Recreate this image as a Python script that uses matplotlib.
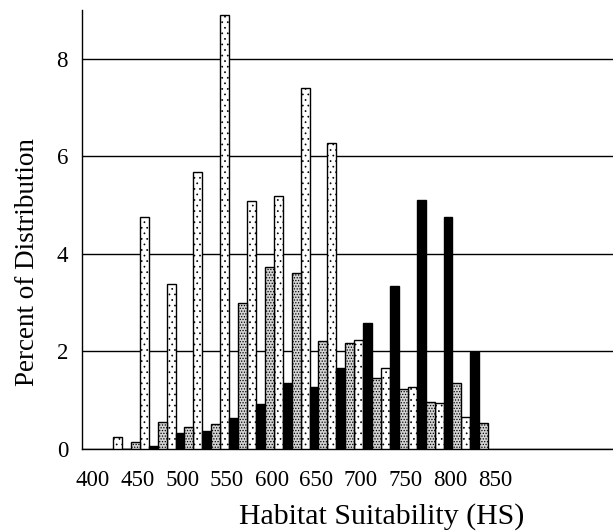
import numpy as np
import matplotlib
matplotlib.use("Agg")
from matplotlib import pyplot as plt

### data ###

# three interleaved series, 14 bins each (percent of distribution)
dotted = [0.25, 4.76, 3.38, 5.68, 8.90, 5.09, 5.19, 7.41, 6.28, 2.24, 1.66, 1.27, 0.94, 0.66]
solid = [0.0, 0.06, 0.32, 0.37, 0.64, 0.92, 1.35, 1.28, 1.66, 2.58, 3.34, 5.11, 4.76, 1.99]
stippled = [0.14, 0.56, 0.46, 0.51, 2.99, 3.73, 3.61, 2.22, 2.17, 1.46, 1.23, 0.96, 1.35, 0.53]

hs_ticks = [400, 450, 500, 550, 600, 650, 700, 750, 800, 850]
y_ticks = [0, 2, 4, 6, 8]

first_bin = 422.4   # left edge of first bar, HS units
bar_w = 10

### plot ###

plt.rcParams['font.family'] = ['Liberation Serif', 'DejaVu Serif']
plt.rcParams['hatch.color'] = 'black'

fig = plt.figure(figsize=(6.13, 5.32), dpi=100)
ax = fig.add_axes([82/613, 1 - 449/532, 1 - 82/613, (449 - 10)/532])

idx = np.arange(len(dotted))
styles = [
    (dotted, 0, 'white', '...', 0.5),
    (solid, 1, 'black', None, 0.5),
    (stippled, 2, '#d4d4d4', '......', 0.6),
]
for vals, off, fc, hatch, hlw in styles:
    plt.rcParams['hatch.linewidth'] = hlw
    x = first_bin + (3*idx + off)*bar_w
    ax.bar(x, vals, width=bar_w, align='edge', color=fc, edgecolor='black',
           linewidth=1.0, hatch=hatch, zorder=3)

ax.set_xlim(387.7, 982.1)
ax.set_ylim(0, 9.0)
ax.set_xticks(hs_ticks)
ax.set_xticklabels([str(v) for v in hs_ticks])
ax.set_yticks(y_ticks)
ax.tick_params(axis='x', length=0, pad=15, labelsize=16.5)
ax.tick_params(axis='y', length=0, pad=10, labelsize=16.5)
ax.yaxis.grid(True, color='black', linewidth=1.0)
ax.set_axisbelow(True)
for s in ['top', 'right']:
    ax.spines[s].set_visible(False)
for s in ['left', 'bottom']:
    ax.spines[s].set_linewidth(1.0)

ax.set_xlabel('Habitat Suitability (HS)', fontsize=21.5)
ax.set_ylabel('Percent of Distribution', fontsize=19.5)
ax.xaxis.set_label_coords(0.565, -0.123)
ax.yaxis.set_label_coords(-0.08, 0.426)

fig.savefig('out.png', dpi=100)
